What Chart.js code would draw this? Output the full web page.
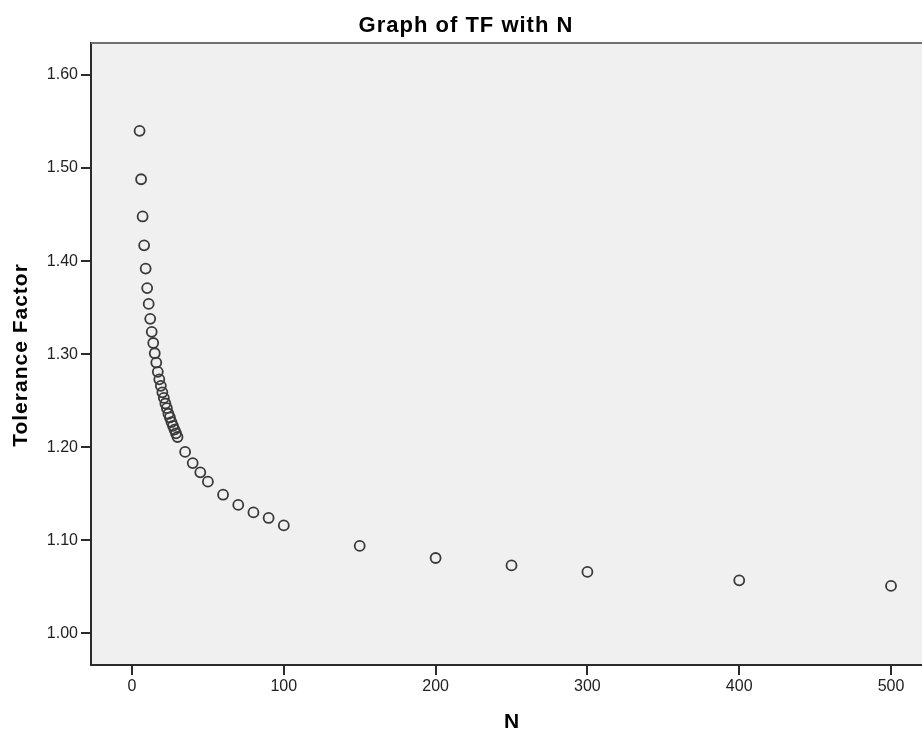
<!DOCTYPE html>
<html>
<head>
<meta charset="utf-8">
<title>Graph of TF with N</title>
<script src="https://cdn.jsdelivr.net/npm/chart.js@4.4.1/dist/chart.umd.min.js"></script>
<style>
  html, body { margin: 0; padding: 0; background: #fff; }
  canvas { display: block; }
</style>
</head>
<body>
<canvas id="tfChart" width="922" height="729"></canvas>
<script>
// sample sizes and tolerance factors
const nValues = [5, 6, 7, 8, 9, 10, 11, 12, 13, 14, 15, 16, 17, 18, 19, 20, 21, 22, 23, 24, 25, 26, 27, 28, 29, 30,
  35, 40, 45, 50, 60, 70, 80, 90, 100, 150, 200, 250, 300, 400, 500];
const tfValues = [1.540, 1.488, 1.448, 1.417, 1.392, 1.371, 1.354, 1.338, 1.324, 1.312, 1.301, 1.291, 1.281, 1.273,
  1.266, 1.259, 1.253, 1.247, 1.242, 1.236, 1.232, 1.227, 1.223, 1.219, 1.215, 1.211,
  1.195, 1.183, 1.173, 1.163, 1.149, 1.138, 1.130, 1.124, 1.116, 1.094, 1.081, 1.073, 1.066, 1.057, 1.051];
const xTicks = [0, 100, 200, 300, 400, 500];
const yTicks = [1.00, 1.10, 1.20, 1.30, 1.40, 1.50, 1.60];

const chartTitle = 'Graph of TF with N';
const xTitle = 'N';
const yTitle = 'Tolerance Factor';

const FONT = '"Liberation Sans", Arial, sans-serif';
const AXIS_COLOR = '#2b2b2b';

const points = nValues.map((n, i) => ({ x: n, y: tfValues[i] }));

// grey plot background, top frame line and the text labels
const decorations = {
  id: 'decorations',
  beforeDraw: chart => {
    const { ctx, chartArea: a } = chart;
    ctx.save();
    ctx.fillStyle = '#f0f0f0';
    ctx.fillRect(a.left, a.top, a.right - a.left, a.bottom - a.top);
    ctx.restore();
  },
  afterDraw: chart => {
    const { ctx, chartArea: a } = chart;
    ctx.save();
    ctx.strokeStyle = '#707070';
    ctx.lineWidth = 2;
    ctx.beginPath();
    ctx.moveTo(a.left, a.top);
    ctx.lineTo(a.right, a.top);
    ctx.stroke();

    ctx.fillStyle = '#000';
    ctx.letterSpacing = '1px';
    ctx.textAlign = 'center';
    ctx.textBaseline = 'alphabetic';
    ctx.font = 'bold 22px ' + FONT;
    ctx.fillText(chartTitle, 466, 32);

    ctx.font = 'bold 21px ' + FONT;
    ctx.fillText(xTitle, 512, 728);

    ctx.translate(27, 355);
    ctx.rotate(-Math.PI / 2);
    ctx.fillText(yTitle, 0, 0);
    ctx.restore();
  }
};

const ctx = document.getElementById('tfChart').getContext('2d');
new Chart(ctx, {
  type: 'scatter',
  data: {
    datasets: [{
      label: 'TF',
      data: points,
      pointRadius: 5,
      pointHoverRadius: 5,
      pointBorderWidth: 1.8,
      borderColor: '#3a3a3a',
      backgroundColor: 'rgba(0,0,0,0)'
    }]
  },
  options: {
    responsive: false,
    devicePixelRatio: 1,
    animation: false,
    layout: { autoPadding: false, padding: { top: 43, right: 0, left: 0, bottom: 0 } },
    plugins: {
      legend: { display: false },
      tooltip: { enabled: false },
      title: { display: false }
    },
    scales: {
      x: {
        type: 'linear',
        min: -27,
        max: 520.4,
        afterFit: s => { s.height = 64; s.paddingLeft = 0; s.paddingRight = 0; },
        afterBuildTicks: s => { s.ticks = xTicks.map(v => ({ value: v })); },
        border: { display: true, color: AXIS_COLOR, width: 2 },
        grid: { drawOnChartArea: false, drawTicks: true, tickLength: 10, color: AXIS_COLOR, lineWidth: 2 },
        ticks: {
          padding: 2,
          color: '#222',
          font: { family: FONT, size: 16 },
          callback: v => String(v)
        }
      },
      y: {
        type: 'linear',
        min: 0.966,
        max: 1.6344,
        afterFit: s => { s.width = 91; s.paddingTop = 0; s.paddingBottom = 0; },
        afterBuildTicks: s => { s.ticks = yTicks.map(v => ({ value: v })); },
        border: { display: true, color: AXIS_COLOR, width: 2 },
        grid: { drawOnChartArea: false, drawTicks: true, tickLength: 10, color: AXIS_COLOR, lineWidth: 2 },
        ticks: {
          padding: 3,
          color: '#222',
          font: { family: FONT, size: 16 },
          callback: v => Number(v).toFixed(2)
        }
      }
    }
  },
  plugins: [decorations]
});
</script>
</body>
</html>
